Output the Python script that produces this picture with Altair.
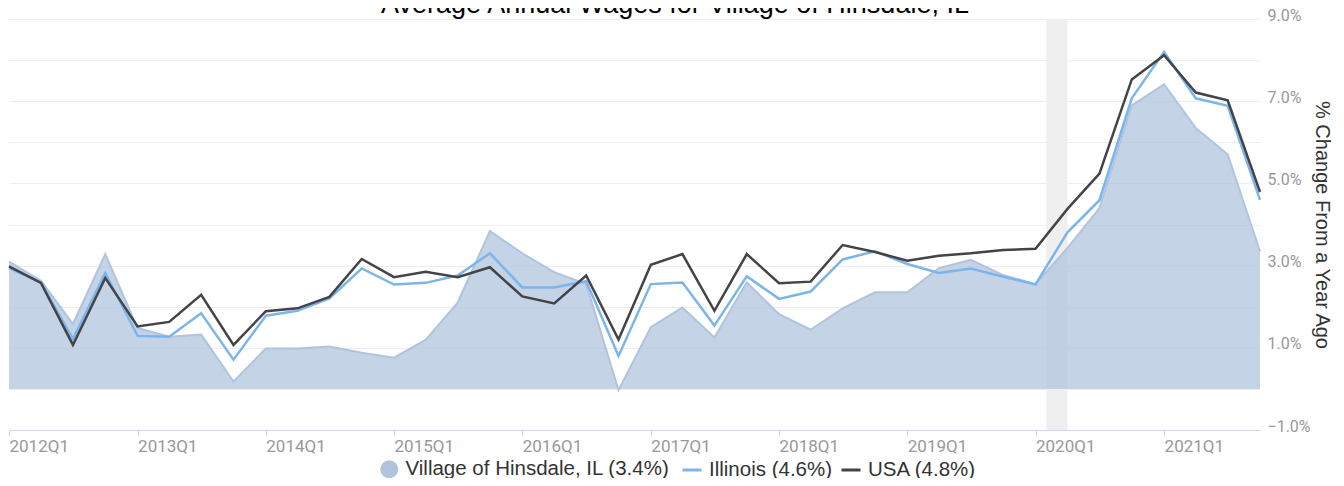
import altair as alt
import pandas as pd

quarters = [f"{y}Q{q}" for y in range(2012, 2022) for q in range(1, 5)]

village = [3.10, 2.63, 1.58, 3.28, 1.48, 1.27, 1.32, 0.18, 0.98, 0.98,
           1.03, 0.88, 0.76, 1.19, 2.10, 3.84, 3.30, 2.84, 2.55, -0.03,
           1.50, 1.98, 1.25, 2.59, 1.82, 1.44, 1.96, 2.35, 2.35, 2.94,
           3.14, 2.77, 2.55, 3.43, 4.40, 6.90, 7.41, 6.35, 5.71, 3.35]
illinois = [2.94, 2.59, 1.21, 2.82, 1.29, 1.27, 1.84, 0.71, 1.78, 1.90,
            2.20, 2.93, 2.54, 2.58, 2.76, 3.30, 2.47, 2.47, 2.62, 0.80,
            2.55, 2.59, 1.54, 2.74, 2.19, 2.37, 3.15, 3.35, 3.04, 2.82,
            2.93, 2.73, 2.54, 3.81, 4.59, 7.07, 8.20, 7.07, 6.89, 4.60]
usa = [2.98, 2.58, 1.07, 2.70, 1.52, 1.63, 2.29, 1.07, 1.89, 1.96,
       2.24, 3.16, 2.72, 2.85, 2.72, 2.96, 2.25, 2.08, 2.76, 1.20,
       3.02, 3.28, 1.90, 3.28, 2.57, 2.61, 3.50, 3.33, 3.12, 3.24,
       3.30, 3.38, 3.41, 4.38, 5.24, 7.53, 8.12, 7.21, 7.02, 4.79]

series_names = ["Village of Hinsdale, IL (3.4%)", "Illinois (4.6%)", "USA (4.8%)"]
series_colors = ["#b0c4de", "#7cb5ec", "#434348"]

recession_start = ["2020-02-01"]
recession_end = ["2020-04-01"]

title_text = ["Average Annual Wages for Village of Hinsdale, IL"]
y_title = "% Change From a Year Ago"


def q_to_date(q):
    year, qn = q.split("Q")
    return f"{year}-{3 * (int(qn) - 1) + 1:02d}-01"


dates = [q_to_date(q) for q in quarters]
rows = []
for name, vals in zip(series_names, [village, illinois, usa]):
    for d, v in zip(dates, vals):
        rows.append({"date": d, "value": v, "series": name})
df = pd.DataFrame(rows)
band_df = pd.DataFrame({"start": recession_start, "end": recession_end})
title_df = pd.DataFrame({"t": title_text})

W, H = 1251, 411
LABEL_FONT = "Roboto"
TEXT_FONT = "Liberation Sans"

x_scale = alt.Scale(type="utc", domain=[dates[0], dates[-1]], nice=False)
y_scale = alt.Scale(domain=[-1, 9], nice=False, zero=False)

x_axis = alt.Axis(
    title=None,
    values=[alt.DateTime(year=y, month=1, date=1, utc=True) for y in range(2012, 2022)],
    labelExpr="utcFormat(datum.value, '%Y') + 'Q1'",
    labelAlign="left",
    labelBaseline="top",
    labelPadding=2,
    labelFont=LABEL_FONT,
    labelFontSize=17,
    labelColor="#999999",
    labelOverlap=False,
    labelFlush=False,
    grid=False,
    domainColor="#ccd6eb",
    domainWidth=1,
    tickColor="#ccd6eb",
    tickSize=6,
    tickWidth=1,
)
y_axis = alt.Axis(
    orient="right",
    title=y_title,
    titleFont=TEXT_FONT,
    titleFontSize=20,
    titleFontWeight="normal",
    titleColor="#333333",
    titlePadding=1,
    values=list(range(-1, 10)),
    labelExpr="datum.value % 2 != 0 ? format(datum.value, '.1f') + '%' : ''",
    labelFont=LABEL_FONT,
    labelFontSize=16,
    labelColor="#999999",
    labelBaseline="alphabetic",
    labelOffset=1,
    labelPadding=7,
    domain=False,
    ticks=False,
    grid=True,
    gridColor="#eeeeee",
    gridWidth=1,
)

band = alt.Chart(band_df).mark_rect(color="#efefef").encode(
    x=alt.X("start:T", scale=x_scale, axis=x_axis),
    x2="end:T",
)

legend_common = dict(
    orient="none",
    title=None,
    labelFont=TEXT_FONT,
    labelFontSize=20.5,
    labelColor="#333333",
    labelOffset=6,
    labelLimit=0,
    symbolOpacity=1,
)

area = alt.Chart(df).transform_filter(
    alt.datum.series == series_names[0]
).mark_area(opacity=0.75, line={"color": "#b0c4de", "strokeWidth": 2}).encode(
    x=alt.X("date:T", scale=x_scale, axis=x_axis),
    y=alt.Y("value:Q", scale=y_scale, axis=y_axis),
    y2=alt.datum(0),
    color=alt.Color(
        "series:N",
        scale=alt.Scale(domain=[series_names[0]], range=[series_colors[0]]),
        legend=alt.Legend(symbolType="circle", symbolSize=324, symbolStrokeWidth=0,
                          legendX=370, legendY=440, **legend_common),
    ),
)


def line_layer(i, lx):
    return alt.Chart(df).transform_filter(
        alt.datum.series == series_names[i]
    ).mark_line(strokeWidth=2.5).encode(
        x=alt.X("date:T", scale=x_scale, axis=x_axis),
        y=alt.Y("value:Q", scale=y_scale, axis=y_axis),
        color=alt.Color(
            "series:N",
            scale=alt.Scale(domain=[series_names[i]], range=[series_colors[i]]),
            legend=alt.Legend(symbolType="stroke", symbolSize=361, symbolStrokeWidth=3,
                              legendX=lx, legendY=440, **legend_common),
        ),
    )


title = alt.Chart(title_df).mark_text(
    font=TEXT_FONT, fontSize=27, color="#000000", align="center", baseline="alphabetic"
).encode(text="t:N", x=alt.value(666), y=alt.value(-6))

chart = alt.layer(
    band, area, line_layer(1, 672), line_layer(2, 831), title
).resolve_scale(color="independent").properties(
    width=W,
    height=H,
    autosize=alt.AutoSizeParams(type="none"),
    padding={"left": 1, "top": 11, "right": 76, "bottom": 48},
).configure_view(stroke=None)

chart.save("out.html", embed_options={"renderer": "svg", "actions": False})
